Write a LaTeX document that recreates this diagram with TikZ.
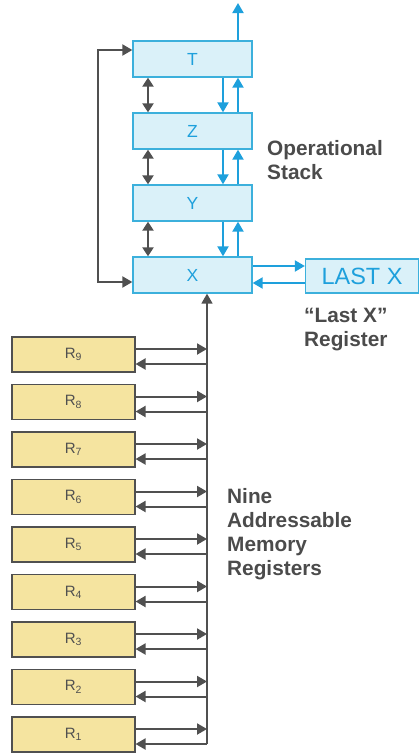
\documentclass[tikz,border=0pt]{standalone}
\usepackage{fontspec}
\setmainfont{Liberation Sans}
\usetikzlibrary{arrows.meta,calc}
\definecolor{stackfill}{RGB}{218,241,249}
\definecolor{stackdraw}{RGB}{60,176,220}
\definecolor{bluearr}{RGB}{30,160,220}
\definecolor{regfill}{RGB}{245,228,160}
\definecolor{darkgr}{RGB}{80,80,80}
\definecolor{labgr}{RGB}{75,75,75}
\tikzset{
  stackbox/.style={draw=stackdraw, fill=stackfill, line width=1.3pt, minimum width=119pt, minimum height=36pt, inner sep=0pt, text=bluearr, font=\fontsize{17.5}{17.5}\selectfont},
  lastbox/.style={draw=stackdraw, fill=stackfill, line width=1.3pt, minimum width=113pt, minimum height=34pt, inner sep=0pt, text=bluearr, font=\fontsize{23.5}{23.5}\selectfont},
  regbox/.style={draw=darkgr, fill=regfill, line width=1.1pt, minimum width=123pt, minimum height=35pt, inner sep=0pt, text=darkgr, font=\fontsize{15}{15}\selectfont},
  bluea/.style={draw=bluearr, line width=2pt, -{Triangle[length=10pt,width=11pt]}},
  darka/.style={draw=darkgr, line width=2pt, -{Triangle[length=10pt,width=11pt]}},
  darkdbl/.style={draw=darkgr, line width=2.2pt, {Triangle[length=9pt,width=11pt]}-{Triangle[length=9pt,width=11pt]}},
  lab/.style={text=labgr, font=\bfseries\fontsize{20.8}{24}\selectfont, align=left, anchor=north west, inner sep=0pt}
}
\begin{document}
\begin{tikzpicture}[x=1pt,y=-1pt]
\useasboundingbox (0,0) rectangle (419,755);
% stack
\node[stackbox] (T) at (192.5,59) {T};
\node[stackbox] (Z) at (192.5,131) {Z};
\node[stackbox] (Y) at (192.5,203) {Y};
\node[stackbox] (X) at (192.5,275) {X};
\node[lastbox] (LX) at (362,276) {LAST X};
% helper columns
\coordinate (cdark) at (148,0);
\coordinate (cdown) at (223,0);
\coordinate (cup) at (238,0);
\coordinate (loopx) at (98,0);
\coordinate (busx) at (207,0);
\coordinate (topend) at (238,3);
% stack arrows
\foreach \a/\b in {T/Z, Z/Y, Y/X}{
  \draw[darkdbl] (\a.south -| cdark) -- (\b.north -| cdark);
  \draw[bluea] (\a.south -| cdown) -- (\b.north -| cdown);
  \draw[bluea] (\b.north -| cup) -- (\a.south -| cup);
}
\draw[bluea] (T.north -| cup) -- (topend);
% loop X <-> T
\draw[darka, {Triangle[length=10pt,width=11pt]}-{Triangle[length=10pt,width=11pt]}]
  ([yshift=9pt]T.west) -- ([yshift=9pt]T.west -| loopx) -- ([yshift=-7pt]X.west -| loopx) -- ([yshift=-7pt]X.west);
% X <-> LAST X
\draw[bluea] ([yshift=9pt]X.east) -- ([yshift=9pt]X.east -| LX.west);
\draw[bluea] ([yshift=-8pt]X.east -| LX.west) -- ([yshift=-8pt]X.east);
% registers
\foreach \k in {1,...,9}{
  \node[regbox] (R\k) at (73.5,{337+(9-\k)*47.5+17.5}) {R\textsubscript{\k}};
  \draw[darka] ([yshift=5.5pt]R\k.east) -- ([yshift=5.5pt]R\k.east -| busx);
  \draw[darka] ([yshift=-9.5pt]R\k.east -| busx) -- ([yshift=-9.5pt]R\k.east);
}
\draw[darka, line width=1.6pt] ([yshift=-9.5pt]R1.east -| busx) -- (X.south -| busx);
% labels
\node[lab] (ops) at (267,140) {Operational\\Stack};
\node[lab] (lxr) at (304,308) {``Last X''\\Register};
\node[lab] (nine) at (227,488) {Nine\\Addressable\\Memory\\Registers};
\end{tikzpicture}
\end{document}
